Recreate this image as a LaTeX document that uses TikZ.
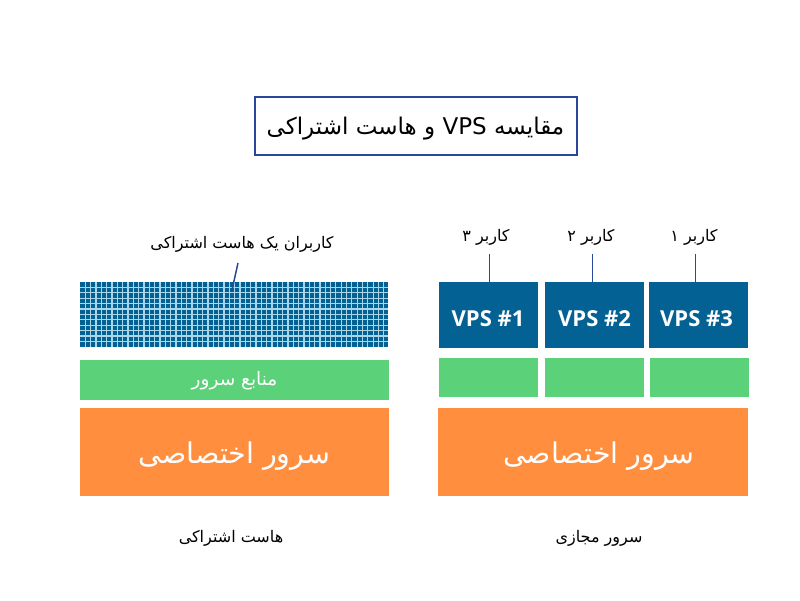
\documentclass[tikz,border=0pt]{standalone}
\usepackage{fontspec}
\setmainfont{Open Sans}
\newfontfamily\arabicfont[Script=Arabic]{DejaVu Sans}
\usetikzlibrary{positioning, calc}
\TeXXeTstate=1
\newcommand{\lowered}[1]{\raisebox{-0.4em}[0pt][0pt]{#1}}
\newcommand{\fatext}[1]{\lowered{\arabicfont\beginR #1\endR}}
\newcommand{\vpstext}[1]{\raisebox{-0.5em}[0pt][0pt]{#1}}
\definecolor{vpsblue}{HTML}{036193}
\definecolor{gridline}{HTML}{A9D6E8}
\definecolor{resgreen}{HTML}{5BD27A}
\definecolor{srvorange}{HTML}{FF8F3F}
\definecolor{framblue}{HTML}{29479B}
\tikzset{
    block/.style={inner sep=0pt, outer sep=0pt, text=white},
    vps/.style={block, fill=vpsblue, minimum width=99pt, minimum height=66pt, font=\bfseries\fontsize{22}{24}\selectfont},
    res/.style={block, fill=resgreen, minimum width=99pt, minimum height=39pt},
    srv/.style={block, fill=srvorange, minimum width=310pt, minimum height=88pt, font=\fontsize{28.5}{32}\selectfont},
    caption/.style={inner sep=0pt, outer sep=0pt, minimum height=38pt, font=\fontsize{16}{19}\selectfont},
    lead/.style={draw=framblue, line width=1.2pt},
}
\begin{document}
\begin{tikzpicture}[x=1pt, y=-1pt, node distance=105pt]
    \useasboundingbox[fill=white] (0,0) rectangle (800,600);

    \node[draw=framblue, line width=2pt, inner sep=0pt, minimum width=322pt, minimum height=58pt,
        font=\fontsize{23}{27}\selectfont] (title) at (415.5,125.5)
        {\fatext{مقایسه \beginL VPS\endL{} و هاست اشتراکی}};

    % shared hosting
    \node[block, fill=vpsblue, minimum width=308pt, minimum height=65pt] (users) at (234,314.5) {};
    \foreach \i in {1,...,57}
        \draw[gridline, line width=1.3pt] ($(users.north west)+(5.33*\i,0)$) -- ($(users.south west)+(5.33*\i,0)$);
    \foreach \j in {1,...,11}
        \draw[gridline, line width=1.3pt] ($(users.north west)+(0,5.4*\j)$) -- ($(users.north east)+(0,5.4*\j)$);
    \node[res, minimum width=309pt, minimum height=40pt, font=\fontsize{18.5}{22}\selectfont] (res0) at (234.5,380) {\raisebox{3pt}{\fatext{منابع سرور}}};
    \node[srv, minimum width=309pt] (srv0) at (234.5,452) {\fatext{سرور اختصاصی}};
    \node[caption] (lab0) at (242,242.5) {\fatext{کاربران یک هاست اشتراکی}};
    \node[caption] (cap0) at (231,536.5) {\fatext{هاست اشتراکی}};
    \coordinate (leadtop) at ($(lab0.south)+(-4,1.5)$);
    \coordinate (leadend) at (232,290);
    \draw[lead, line width=1.5pt] (leadtop) -- (leadend);

    % virtual servers
    \node[vps] (vps1) at (488,315) {\vpstext{VPS \#1}};
    \node[vps] (vps2) [right of=vps1, node distance=106.5pt] {\vpstext{VPS \#2}};
    \node[vps] (vps3) [right of=vps2, node distance=104pt] {\hspace*{-4pt}\vpstext{VPS \#3}};

    \node[res] (res1) at (488,377.5) {};
    \node[res] (res2) [right of=res1, node distance=106.5pt] {};
    \node[res] (res3) [right of=res2, node distance=104.5pt] {};

    \node[srv] (srv1) at (593,452) {\hspace*{12pt}\fatext{سرور اختصاصی}};
    \node[caption] (cap1) at (599,536.5) {\fatext{سرور مجازی}};

    \node[caption] (lab1) at (486,235) {\fatext{کاربر ۳}};
    \node[caption] (lab2) at (591,235) {\fatext{کاربر ۲}};
    \node[caption] (lab3) at (694,235) {\fatext{کاربر ۱}};

    \coordinate (stem1) at (489.5,254);
    \coordinate (stem2) at (592.5,254);
    \coordinate (stem3) at (695.5,254);
    \draw[lead] (stem1) -- (stem1 |- vps1.north);
    \draw[lead] (stem2) -- (stem2 |- vps2.north);
    \draw[lead] (stem3) -- (stem3 |- vps3.north);
\end{tikzpicture}
\end{document}
